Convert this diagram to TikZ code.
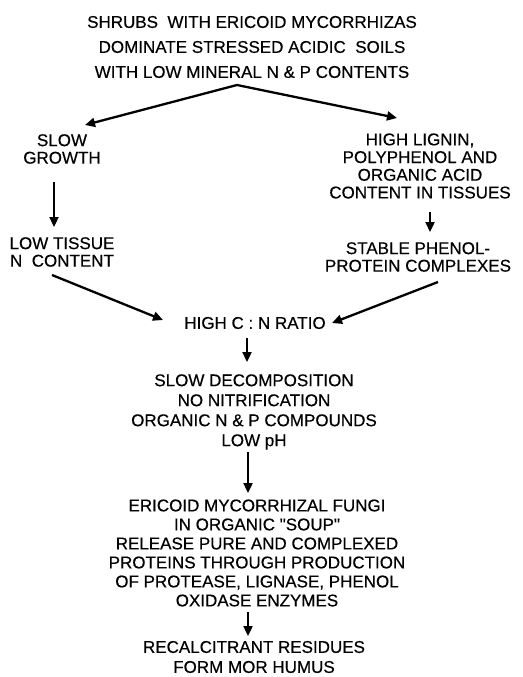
\documentclass[tikz,border=0pt]{standalone}
\usepackage{fontspec}
\newfontfamily\lib{Liberation Sans}[FakeBold=0.4]
\usetikzlibrary{arrows.meta}
\begin{document}
\begin{tikzpicture}[x=1pt,y=-1pt,
  every node/.style={font=\lib\fontsize{17}{20}\selectfont, align=center, inner sep=0pt},
  arr/.style={line width=2.3pt, -{Triangle[length=10pt,width=9pt]}}]
\useasboundingbox (0,0) rectangle (522,677);
\node[font=\lib\fontsize{17}{25}\selectfont] (top) at (252,47) {SHRUBS\ \ WITH ERICOID MYCORRHIZAS\\DOMINATE STRESSED ACIDIC\ \ SOILS\\WITH LOW MINERAL N \& P CONTENTS};
\node[font=\lib\fontsize{17}{17.5}\selectfont] (slow) at (62,149) {SLOW\\GROWTH};
\node[font=\lib\fontsize{17}{17.7}\selectfont] (lignin) at (420,166) {HIGH LIGNIN,\\POLYPHENOL AND\\ORGANIC ACID\\CONTENT IN TISSUES};
\node[font=\lib\fontsize{17}{17.5}\selectfont] (low) at (62,252) {LOW TISSUE\\N\ \ CONTENT};
\node[font=\lib\fontsize{17}{17.5}\selectfont] (stable) at (418,257) {STABLE PHENOL-\\PROTEIN COMPLEXES};
\node (ratio) at (255,323) {HIGH C : N RATIO};
\node (decomp) at (254,412) {SLOW DECOMPOSITION\\NO NITRIFICATION\\ORGANIC N \& P COMPOUNDS\\LOW pH};
\node[font=\lib\fontsize{17}{19}\selectfont] (fungi) at (257,553) {ERICOID MYCORRHIZAL FUNGI\\IN ORGANIC "SOUP"\\RELEASE PURE AND COMPLEXED\\PROTEINS THROUGH PRODUCTION\\OF PROTEASE, LIGNASE, PHENOL\\OXIDASE ENZYMES};
\node (mor) at (254,657) {RECALCITRANT RESIDUES\\FORM MOR HUMUS};
% connector end points
\coordinate (apex) at (237,85);
\coordinate (slowin) at (85,125);
\coordinate (lignin-in) at (397,118);
\coordinate (slowout) at (54,182);
\coordinate (lowin) at (54,227);
\coordinate (ligout) at (430,212);
\coordinate (stabin) at (430,232);
\coordinate (lowout) at (52,275);
\coordinate (ratioinL) at (163,320);
\coordinate (stabout) at (438,282);
\coordinate (ratioinR) at (332,323);
\coordinate (ratioout) at (247,338);
\coordinate (decompin) at (247,362);
\coordinate (decompout) at (248,452);
\coordinate (fungiin) at (248,493);
\coordinate (fungiout) at (248,612);
\coordinate (morin) at (248,636);
\draw[arr] (apex) -- (slowin);
\draw[arr] (apex) -- (lignin-in);
\draw[arr] (slowout) -- (lowin);
\draw[arr] (ligout) -- (stabin);
\draw[arr] (lowout) -- (ratioinL);
\draw[arr] (stabout) -- (ratioinR);
\draw[arr] (ratioout) -- (decompin);
\draw[arr] (decompout) -- (fungiin);
\draw[arr] (fungiout) -- (morin);
\end{tikzpicture}
\end{document}
